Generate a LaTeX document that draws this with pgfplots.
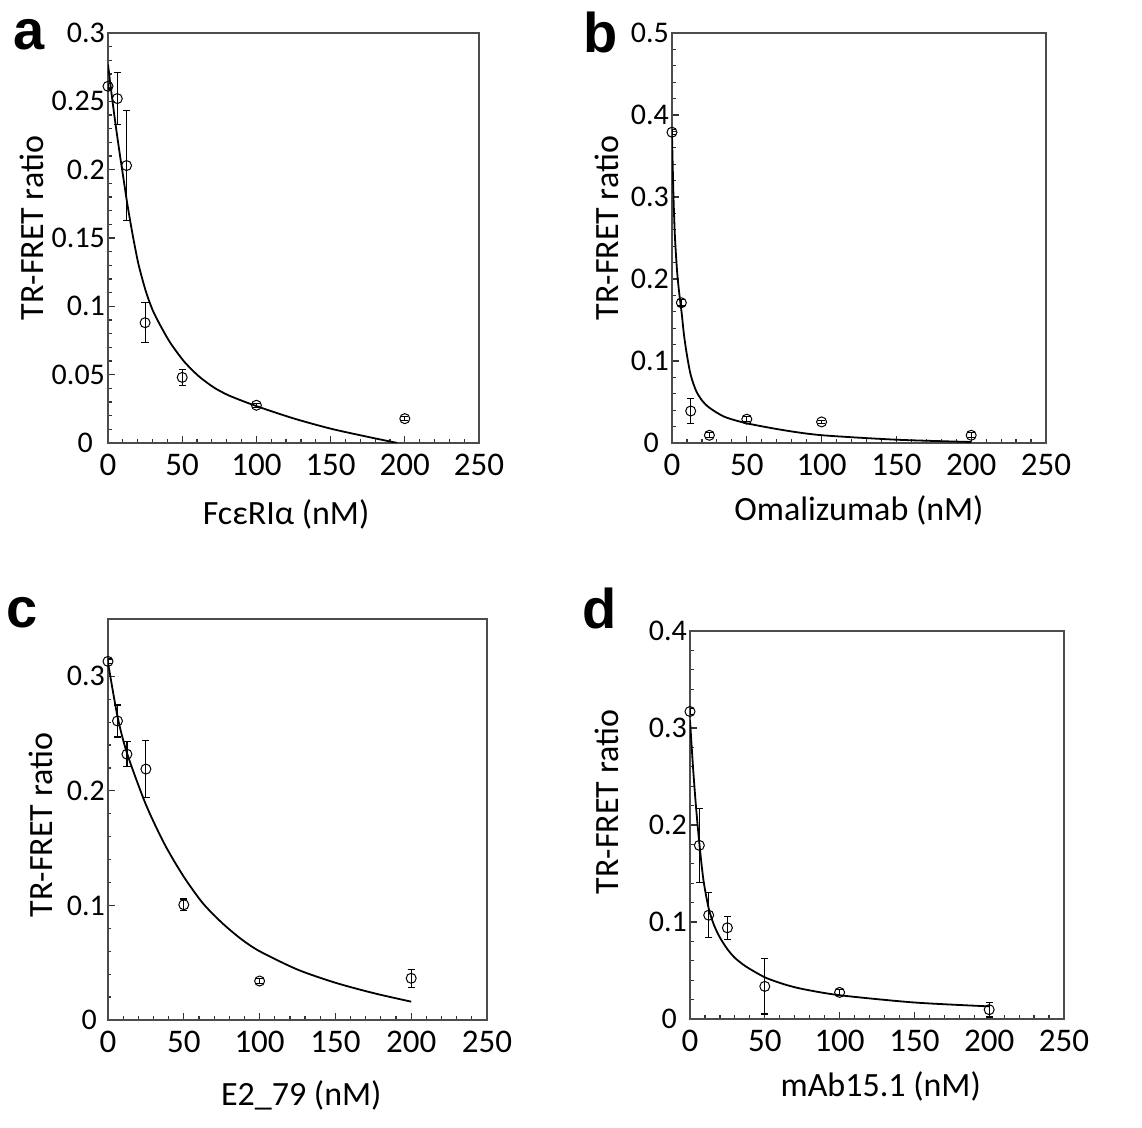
\documentclass[border=0pt]{standalone}
\usepackage{fontspec}
\setmainfont{Carlito}
\newfontfamily\letterfont{Liberation Sans}
\usepackage{pgfplots}
\pgfplotsset{compat=1.18}

\pgfplotsset{
  panel/.style={
    scale only axis,
    xmin=0, xmax=250, ymin=0,
    xtick={0,50,...,250}, minor x tick num=4,
    tick pos=left, tick align=inside,
    major tick length=3.5pt, minor tick length=1.75pt,
    axis line style={black!70, line width=0.9pt},
    every tick/.style={black!80, line width=0.6pt},
    /pgf/number format/assume math mode=true,
    /pgf/number format/fixed,
    /pgf/number format/precision=2,
    xticklabel style={font=\fontsize{16.5}{18}\selectfont, yshift=-2pt},
    yticklabel style={font=\fontsize{15}{17}\selectfont, xshift=2pt},
    label style={font=\fontsize{17}{19}\selectfont},
    ylabel={TR-FRET ratio},
  },
  fitline/.style={black, line width=0.9pt, smooth, tension=0.45, no marks},
  pts/.style={only marks, black, mark=o, mark size=2.5pt,
    mark options={black, line width=0.5pt},
    error bars/.cd, y dir=both, y explicit,
    error bar style={black, line width=0.6pt},
    error mark options={rotate=90, mark size=1.8pt, line width=0.6pt}},
}

\begin{document}
\begin{tikzpicture}
\path[use as bounding box] (0pt,0pt) rectangle (571pt,564pt);

% ---- a ----
\begin{axis}[panel, at={(54pt,342.5pt)}, anchor=south west,
  width=185.5pt, height=205pt,
  ymax=0.3, ytick={0,0.05,0.1,0.15,0.2,0.25,0.3}, minor y tick num=4,
  yticklabels={{0\rule{6pt}{0pt}},0.05,0.1,0.15,0.2,0.25,0.3},
  xlabel={FcεRIα (nM)},
  xlabel style={at={(axis description cs:0.48,0)}, anchor=north, yshift=-25pt},
  ylabel style={at={(axis description cs:0,0.524)}, anchor=center, yshift=38pt}]
\addplot[fitline] coordinates {
  (0,0.277)(2,0.259)(4,0.242)(6,0.226)(8,0.211)(10.5,0.193)(13,0.175)
  (16.5,0.153)(20.5,0.131)(25.5,0.111)(31,0.095)(41,0.075)(51,0.060)
  (61,0.049)(71.5,0.0405)(82,0.0345)(100,0.027)(125,0.018)(150,0.0105)
  (175,0.0045)(195,0.0)};
\addplot[pts] coordinates {
  (0,0.261) +- (0,0.002)
  (6.25,0.252) +- (0,0.019)
  (12.5,0.203) +- (0,0.040)
  (25,0.088) +- (0,0.0145)
  (50,0.048) +- (0,0.006)
  (100,0.0276) +- (0,0.0015)
  (200,0.0178) +- (0,0.0015)};
\end{axis}

% ---- b ----
\begin{axis}[panel, at={(336pt,342.5pt)}, anchor=south west,
  width=187pt, height=205pt,
  ymax=0.5, ytick={0,0.1,0.2,0.3,0.4,0.5}, minor y tick num=4,
  yticklabels={{0\rule{5pt}{0pt}},0.1,0.2,0.3,0.4,0.5},
  xlabel={Omalizumab (nM)},
  xlabel style={at={(axis description cs:0.5,0)}, anchor=north, yshift=-23pt},
  ylabel style={at={(axis description cs:0,0.524)}, anchor=center, yshift=32.5pt}]
\addplot[fitline] coordinates {
  (0,0.375)(1,0.30)(2,0.25)(3.5,0.207)(5,0.180)(6.5,0.158)(8,0.132)
  (10,0.107)(12.5,0.083)(16,0.064)(20,0.052)(25,0.043)(35,0.032)(50,0.024)
  (75,0.0155)(100,0.0095)(150,0.004)(200,0.0012)};
\addplot[pts] coordinates {
  (0,0.379) +- (0,0.003)
  (6.25,0.171) +- (0,0.004)
  (12.5,0.039) +- (0,0.015)
  (25,0.0094) +- (0,0.003)
  (50,0.029) +- (0,0.003)
  (100,0.0257) +- (0,0.002)
  (200,0.0094) +- (0,0.003)};
\end{axis}

% ---- c ----
\begin{axis}[panel, at={(54pt,54pt)}, anchor=south west,
  width=189.5pt, height=200.5pt,
  ymax=0.35, ytick={0,0.1,0.2,0.3}, minor y tick num=4,
  yticklabels={{0\rule{4pt}{0pt}},0.1,0.2,0.3},
  xlabel={E2\_79 (nM)},
  xlabel style={at={(axis description cs:0.51,0)}, anchor=north, yshift=-27pt},
  ylabel style={at={(axis description cs:0,0.486)}, anchor=center, yshift=33.5pt}]
\addplot[fitline] coordinates {
  (0,0.312)(6.25,0.265)(12.5,0.233)(25,0.188)(37.5,0.153)(50,0.125)
  (62.5,0.102)(75,0.085)(87.5,0.071)(100,0.060)(125,0.044)(150,0.0325)
  (175,0.0235)(200,0.016)};
\addplot[pts] coordinates {
  (0,0.313) +- (0,0.002)
  (6.25,0.261) +- (0,0.014)
  (12.5,0.232) +- (0,0.011)
  (25,0.219) +- (0,0.025)
  (50,0.1006) +- (0,0.005)
  (100,0.034) +- (0,0.002)
  (200,0.0364) +- (0,0.0077)};
\end{axis}

% ---- d ----
\begin{axis}[panel, at={(345pt,54.5pt)}, anchor=south west,
  width=187pt, height=194pt,
  ymax=0.4, ytick={0,0.1,0.2,0.3,0.4}, minor y tick num=4,
  yticklabels={{0\rule{5pt}{0pt}},0.1,0.2,0.3,0.4},
  xlabel={mAb15.1 (nM)},
  xlabel style={at={(axis description cs:0.51,0)}, anchor=north, yshift=-23pt},
  ylabel style={at={(axis description cs:0,0.559)}, anchor=center, yshift=41.5pt}]
\addplot[fitline] coordinates {
  (0,0.308)(2,0.26)(4,0.219)(6.25,0.181)(9,0.143)(12.5,0.114)(16,0.097)
  (20,0.084)(25,0.072)(30,0.063)(37.5,0.054)(50,0.043)(62.5,0.036)
  (75,0.031)(100,0.0245)(150,0.017)(200,0.013)};
\addplot[pts] coordinates {
  (0,0.317) +- (0,0.003)
  (6.25,0.179) +- (0,0.038)
  (12.5,0.107) +- (0,0.023)
  (25,0.094) +- (0,0.012)
  (50,0.0336) +- (0,0.0285)
  (100,0.0274) +- (0,0.003)
  (200,0.0096) +- (0,0.0075)};
\end{axis}

\node[inner sep=0pt, font=\letterfont\bfseries\fontsize{28}{30}\selectfont] at (14.5pt,546.5pt) {a};
\node[inner sep=0pt, font=\letterfont\bfseries\fontsize{28}{30}\selectfont] at (300.5pt,547.5pt) {b};
\node[inner sep=0pt, font=\letterfont\bfseries\fontsize{28}{30}\selectfont] at (11pt,257.5pt) {c};
\node[inner sep=0pt, font=\letterfont\bfseries\fontsize{28}{30}\selectfont] at (300pt,260pt) {d};
\end{tikzpicture}
\end{document}
